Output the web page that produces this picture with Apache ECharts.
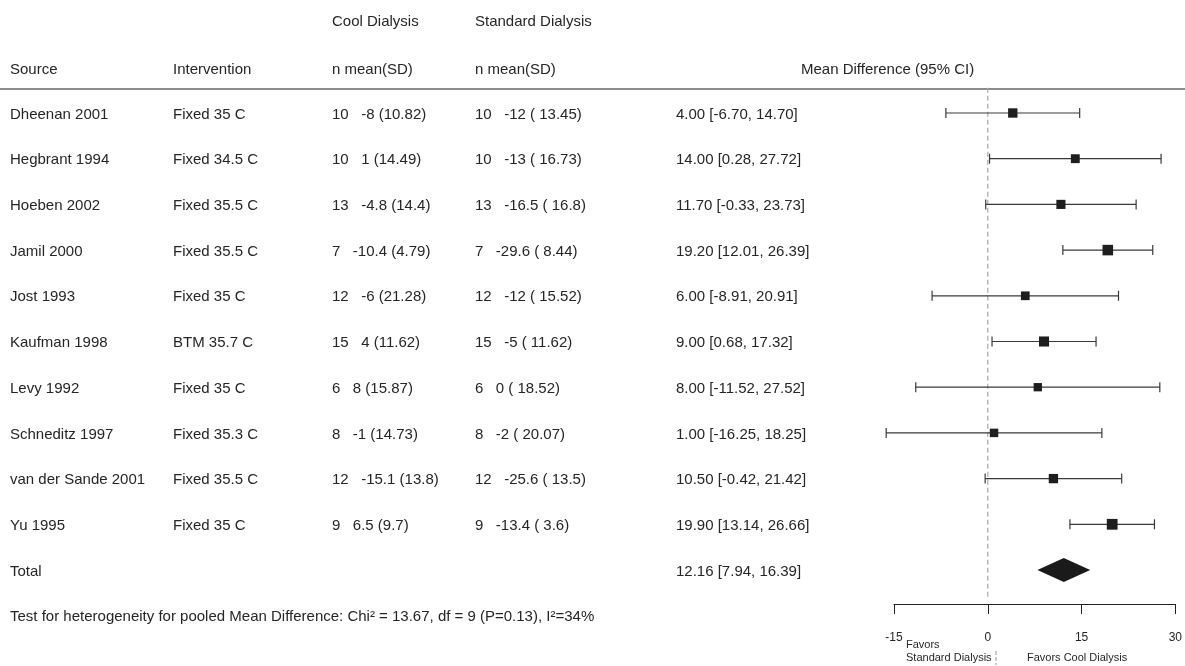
<!DOCTYPE html>
<html>
<head>
<meta charset="utf-8">
<script src="https://cdn.jsdelivr.net/npm/echarts@6/dist/echarts.min.js"></script>
<style>
  html, body { margin: 0; padding: 0; background: #fff; }
  #chart { width: 1185px; height: 666px; }
</style>
</head>
<body>
<div id="chart"></div>
<script>
// Study rows of the meta-analysis
const sources = ['Dheenan 2001', 'Hegbrant 1994', 'Hoeben 2002', 'Jamil 2000', 'Jost 1993',
  'Kaufman 1998', 'Levy 1992', 'Schneditz 1997', 'van der Sande 2001', 'Yu 1995'];
const interventions = ['Fixed 35 C', 'Fixed 34.5 C', 'Fixed 35.5 C', 'Fixed 35.5 C', 'Fixed 35 C',
  'BTM 35.7 C', 'Fixed 35 C', 'Fixed 35.3 C', 'Fixed 35.5 C', 'Fixed 35 C'];

// Cool dialysis arm
const coolN = [10, 10, 13, 7, 12, 15, 6, 8, 12, 9];
const coolMean = [-8, 1, -4.8, -10.4, -6, 4, 8, -1, -15.1, 6.5];
const coolSD = ['10.82', '14.49', '14.4', '4.79', '21.28', '11.62', '15.87', '14.73', '13.8', '9.7'];

// Standard dialysis arm
const stdN = [10, 10, 13, 7, 12, 15, 6, 8, 12, 9];
const stdMean = [-12, -13, -16.5, -29.6, -12, -5, 0, -2, -25.6, -13.4];
const stdSD = ['13.45', '16.73', '16.8', '8.44', '15.52', '11.62', '18.52', '20.07', '13.5', '3.6'];

// Mean difference with 95% CI
const md = [4.00, 14.00, 11.70, 19.20, 6.00, 9.00, 8.00, 1.00, 10.50, 19.90];
const ciLow = [-6.70, 0.28, -0.33, 12.01, -8.91, 0.68, -11.52, -16.25, -0.42, 13.14];
const ciHigh = [14.70, 27.72, 23.73, 26.39, 20.91, 17.32, 27.52, 18.25, 21.42, 26.66];

// Pooled estimate
const totalMd = 12.16;
const totalLow = 7.94;
const totalHigh = 16.39;

// Axis ticks
const xTicks = [-15, 0, 15, 30];

const heterogeneityText = 'Test for heterogeneity for pooled Mean Difference: Chi\u00B2 = 13.67, df = 9 (P=0.13), I\u00B2=34%';

const FONT = '"Liberation Sans", Arial, Helvetica, sans-serif';
const TEXT = '#262626';
const BODY = '15px ' + FONT;
const totalRow = sources.length;

const fmt = v => v.toFixed(2);
const ciText = (m, l, h) => fmt(m) + ' [' + fmt(l) + ', ' + fmt(h) + ']';

// Box size grows with precision (narrower CI -> larger box)
const boxSize = i => {
  const se = (ciHigh[i] - ciLow[i]) / 3.92;
  return 7 + 13 / se;
};

const tableRows = sources.map((s, i) => ({
  cells: [
    s,
    interventions[i],
    coolN[i] + '   ' + coolMean[i] + ' (' + coolSD[i] + ')',
    stdN[i] + '   ' + stdMean[i] + ' ( ' + stdSD[i] + ')',
    ciText(md[i], ciLow[i], ciHigh[i])
  ]
}));
tableRows.push({ cells: ['Total', '', '', '', ciText(totalMd, totalLow, totalHigh)] });
const columnX = [10, 173, 332, 475, 676];
const textNudge = 1.5;

const headerText = (t, x, y) => ({
  type: 'text', x: x, y: y,
  style: { text: t, fill: TEXT, font: BODY, align: 'left', verticalAlign: 'middle' }
});

const chart = echarts.init(document.getElementById('chart'), null, { renderer: 'canvas' });

const option = {
  animation: false,
  backgroundColor: '#fff',
  grid: { left: 894, right: 9, top: 89, bottom: 62, containLabel: false },
  xAxis: {
    type: 'value',
    min: xTicks[0],
    max: xTicks[xTicks.length - 1],
    interval: 15,
    splitLine: { show: false },
    axisLine: { show: true, onZero: false, lineStyle: { color: '#222', width: 1 } },
    axisTick: { show: true, length: 10, lineStyle: { color: '#222', width: 1 } },
    axisLabel: { color: TEXT, fontSize: 12, fontFamily: FONT, margin: 28 }
  },
  yAxis: {
    type: 'value',
    inverse: true,
    min: -0.525,
    max: 10.744,
    show: false
  },
  series: [
    {
      // table text for each row
      type: 'custom',
      clip: false,
      silent: true,
      data: tableRows.map((r, i) => [0, i]),
      renderItem: (params, api) => {
        const i = api.value(1);
        const y = api.coord([0, i])[1] + textNudge;
        const cells = tableRows[i].cells;
        return {
          type: 'group',
          children: cells.map((t, c) => ({
            type: 'text',
            x: columnX[c],
            y: y,
            style: { text: t, fill: TEXT, font: BODY, align: 'left', verticalAlign: 'middle' }
          }))
        };
      }
    },
    {
      // line of no effect
      type: 'custom',
      clip: false,
      silent: true,
      data: [[0, -0.55, 10.59]],
      renderItem: (params, api) => {
        const a = api.coord([api.value(0), api.value(1)]);
        const b = api.coord([api.value(0), api.value(2)]);
        return {
          type: 'line',
          shape: { x1: a[0], y1: a[1], x2: b[0], y2: b[1] },
          style: { stroke: '#aaa', lineWidth: 1.2, lineDash: [5, 3] }
        };
      }
    },
    {
      // confidence intervals
      type: 'custom',
      silent: true,
      data: sources.map((s, i) => [ciLow[i], ciHigh[i], i]),
      renderItem: (params, api) => {
        const a = api.coord([api.value(0), api.value(2)]);
        const b = api.coord([api.value(1), api.value(2)]);
        const st = { stroke: '#3a3a3a', lineWidth: 1.2 };
        const cap = 5;
        return {
          type: 'group',
          children: [
            { type: 'line', shape: { x1: a[0], y1: a[1], x2: b[0], y2: b[1] }, style: st },
            { type: 'line', shape: { x1: a[0], y1: a[1] - cap, x2: a[0], y2: a[1] + cap }, style: st },
            { type: 'line', shape: { x1: b[0], y1: b[1] - cap, x2: b[0], y2: b[1] + cap }, style: st }
          ]
        };
      }
    },
    {
      // point estimates
      type: 'scatter',
      silent: true,
      symbol: 'rect',
      symbolSize: (val, p) => boxSize(p.dataIndex),
      itemStyle: { color: '#1e1e1e', opacity: 1 },
      data: md.map((m, i) => [m, i])
    },
    {
      // pooled diamond
      type: 'custom',
      silent: true,
      data: [[totalLow, totalMd, totalHigh, totalRow]],
      renderItem: (params, api) => {
        const y = api.value(3);
        const l = api.coord([api.value(0), y]);
        const m = api.coord([api.value(1), y]);
        const h = api.coord([api.value(2), y]);
        const half = 12;
        return {
          type: 'polygon',
          shape: { points: [[l[0], l[1]], [m[0], m[1] - half], [h[0], h[1]], [m[0], m[1] + half]] },
          style: { fill: '#1a1a1a' }
        };
      }
    }
  ],
  graphic: [
    headerText('Cool Dialysis', 332, 22),
    headerText('Standard Dialysis', 475, 22),
    headerText('Source', 10, 70),
    headerText('Intervention', 173, 70),
    headerText('n mean(SD)', 332, 70),
    headerText('n mean(SD)', 475, 70),
    headerText('Mean Difference (95% CI)', 801, 70),
    { type: 'line', shape: { x1: 0, y1: 89, x2: 1185, y2: 89 }, style: { stroke: '#666', lineWidth: 1.5 } },
    headerText(heterogeneityText, 10, 617),
    { type: 'text', left: 906, top: 639, style: { text: 'Favors', fill: TEXT, font: '11px ' + FONT } },
    { type: 'text', left: 906, top: 652, style: { text: 'Standard Dialysis', fill: TEXT, font: '11px ' + FONT } },
    { type: 'text', left: 1027, top: 652, style: { text: 'Favors Cool Dialysis', fill: TEXT, font: '11px ' + FONT } },
    { type: 'line', shape: { x1: 996, y1: 651, x2: 996, y2: 665 }, style: { stroke: '#999', lineWidth: 1, lineDash: [4, 2] } }
  ]
};

chart.setOption(option);
</script>
</body>
</html>
